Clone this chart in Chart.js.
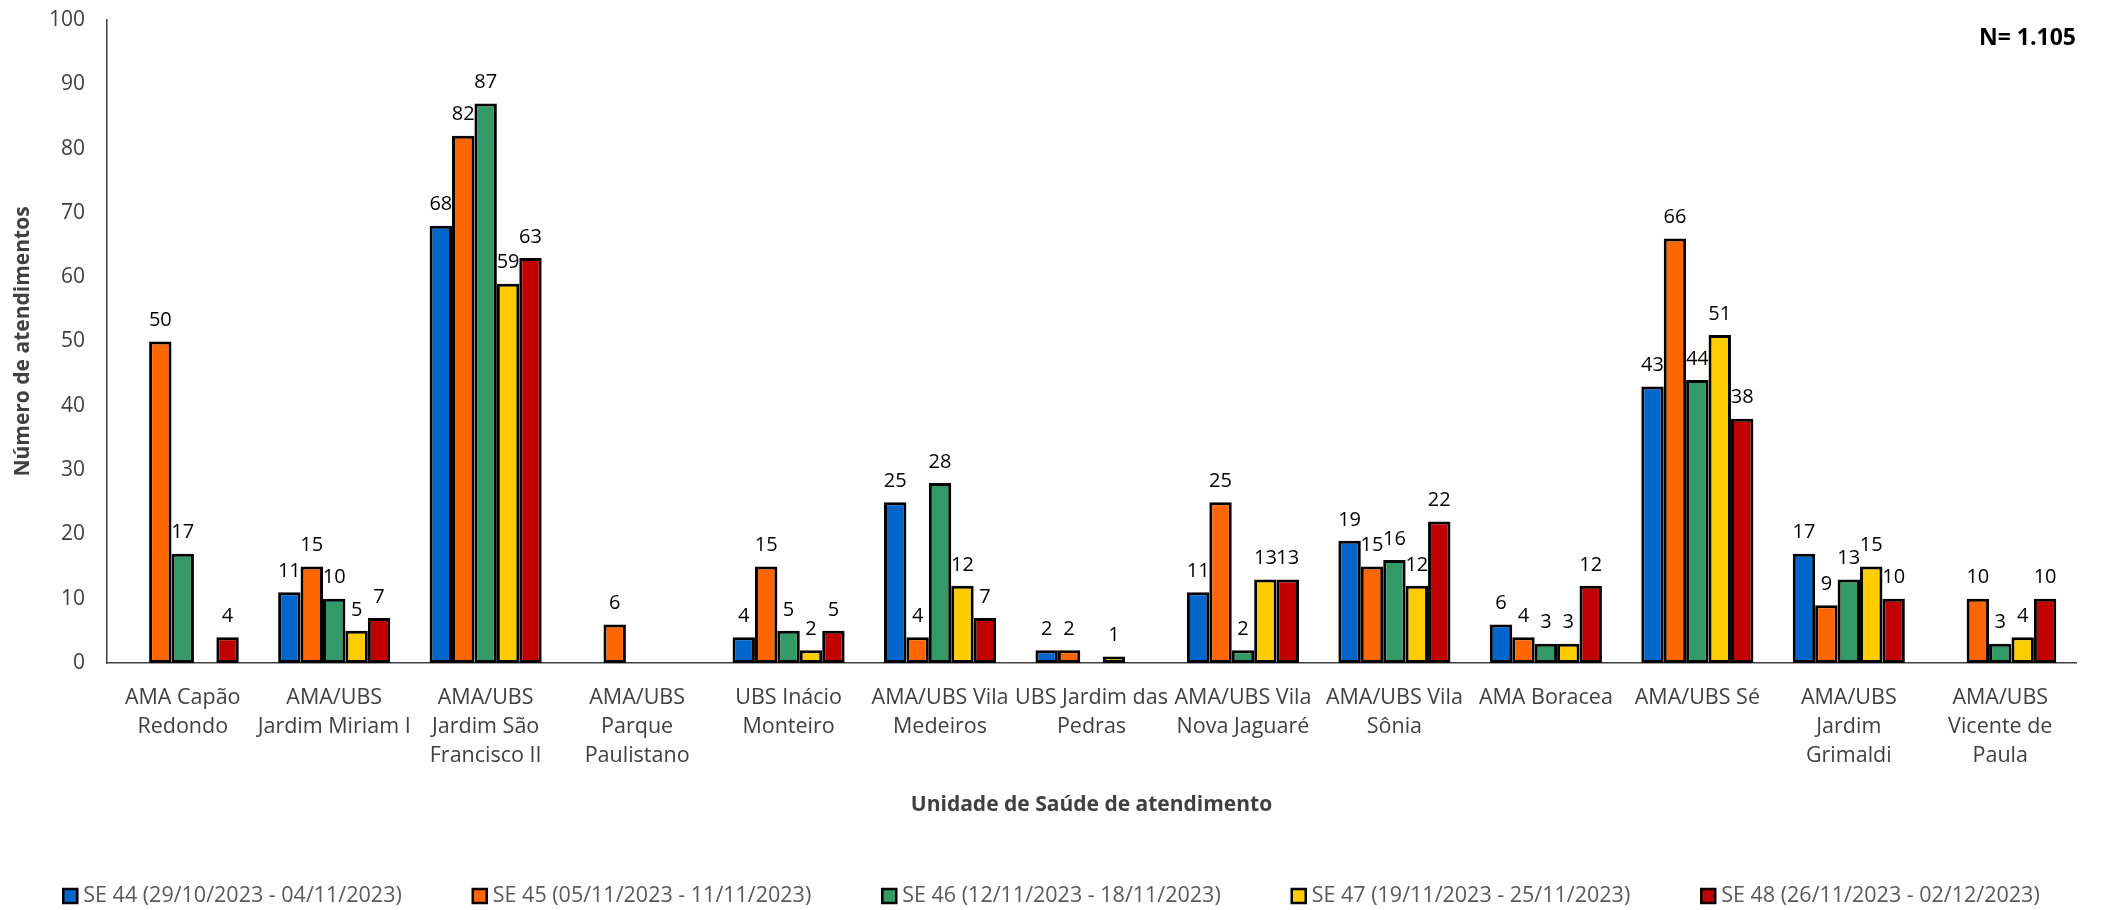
<!DOCTYPE html>
<html>
<head>
<meta charset="utf-8">
<script src="https://cdn.jsdelivr.net/npm/chart.js@4"></script>
<style>
  body { margin: 0; background: #fff; }
  #wrap { width: 2103px; height: 910px; }
</style>
</head>
<body>
<div id="wrap"><canvas id="chart" width="2103" height="910"></canvas></div>
<script>
const unidades = [
    ['AMA Capão', 'Redondo'],
    ['AMA/UBS', 'Jardim Miriam I'],
    ['AMA/UBS', 'Jardim São', 'Francisco II'],
    ['AMA/UBS', 'Parque', 'Paulistano'],
    ['UBS Inácio', 'Monteiro'],
    ['AMA/UBS Vila', 'Medeiros'],
    ['UBS Jardim das', 'Pedras'],
    ['AMA/UBS Vila', 'Nova Jaguaré'],
    ['AMA/UBS Vila', 'Sônia'],
    ['AMA Boracea'],
    ['AMA/UBS Sé'],
    ['AMA/UBS', 'Jardim', 'Grimaldi'],
    ['AMA/UBS', 'Vicente de', 'Paula']
];

const se44 = [null, 11, 68, null, 4, 25, 2, 11, 19, 6, 43, 17, null];
const se45 = [50, 15, 82, 6, 15, 4, 2, 25, 15, 4, 66, 9, 10];
const se46 = [17, 10, 87, null, 5, 28, null, 2, 16, 3, 44, 13, 3];
const se47 = [null, 5, 59, null, 2, 12, 1, 13, 12, 3, 51, 15, 4];
const se48 = [4, 7, 63, null, 5, 7, null, 13, 22, 12, 38, 10, 10];

const semanas = [
    'SE 44 (29/10/2023 - 04/11/2023)',
    'SE 45 (05/11/2023 - 11/11/2023)',
    'SE 46 (12/11/2023 - 18/11/2023)',
    'SE 47 (19/11/2023 - 25/11/2023)',
    'SE 48 (26/11/2023 - 02/12/2023)'
];
const cores = ['#0066CC', '#FF6600', '#339966', '#FFCC00', '#C00000'];
const yTicks = [0, 10, 20, 30, 40, 50, 60, 70, 80, 90, 100];
const totalN = 'N= 1.105';

const FONT = "'Open Sans', 'DejaVu Sans', sans-serif";

// numbers above the bars
const valueLabels = {
    id: 'valueLabels',
    afterDatasetsDraw(chart) {
        const ctx = chart.ctx;
        ctx.save();
        ctx.font = '20px ' + FONT;
        ctx.fillStyle = '#000';
        ctx.textAlign = 'center';
        ctx.textBaseline = 'bottom';
        chart.data.datasets.forEach((ds, i) => {
            const meta = chart.getDatasetMeta(i);
            meta.data.forEach((bar, j) => {
                const v = ds.data[j];
                if (v === null || v === undefined) return;
                ctx.fillText(String(v), bar.x, bar.y - 11);
            });
        });
        ctx.restore();
    }
};

// N label + legend in one row (chart.js legend wraps it)
const extras = {
    id: 'extras',
    afterDraw(chart) {
        const ctx = chart.ctx;
        ctx.save();
        ctx.font = 'bold 23px ' + FONT;
        ctx.fillStyle = '#000';
        ctx.textAlign = 'right';
        ctx.textBaseline = 'middle';
        ctx.fillText(totalN, chart.chartArea.right, 38);

        ctx.font = '21.5px ' + FONT;
        ctx.textAlign = 'left';
        const box = 14, gapTxt = 6, gapItem = 71, yMid = 896;
        const widths = chart.data.datasets.map(ds => box + gapTxt + ctx.measureText(ds.label).width);
        const total = widths.reduce((a, b) => a + b, 0) + gapItem * (widths.length - 1);
        let x = chart.width / 2 - total / 2;
        chart.data.datasets.forEach((ds, i) => {
            ctx.fillStyle = ds.backgroundColor;
            ctx.fillRect(x, yMid - box / 2, box, box);
            ctx.strokeStyle = '#000';
            ctx.lineWidth = 2.5;
            ctx.strokeRect(x, yMid - box / 2, box, box);
            ctx.fillStyle = '#595959';
            ctx.fillText(ds.label, x + box + gapTxt, yMid);
            x += widths[i] + gapItem;
        });
        ctx.restore();
    }
};

const series = [se44, se45, se46, se47, se48];
const datasets = series.map((d, i) => ({
    label: semanas[i],
    data: d,
    backgroundColor: cores[i],
    borderColor: '#000',
    borderWidth: 3,
    borderSkipped: false,
    categoryPercentage: 0.74,
    barPercentage: 1.0
}));

const config = {
    type: 'bar',
    data: {
        labels: unidades,
        datasets: datasets
    },
    options: {
        responsive: false,
        animation: false,
        layout: {
            padding: { top: 0, right: 27, left: 0, bottom: 30 }
        },
        plugins: {
            legend: { display: false },
            tooltip: { enabled: false }
        },
        scales: {
            x: {
                grid: { display: false, drawTicks: false },
                border: { display: true, color: '#404040', width: 1.5 },
                ticks: {
                    autoSkip: false,
                    maxRotation: 0,
                    padding: 21,
                    color: '#404040',
                    font: { family: FONT, size: 21.5, lineHeight: 1.33 }
                },
                title: {
                    display: true,
                    text: 'Unidade de Saúde de atendimento',
                    color: '#404040',
                    font: { family: FONT, size: 21, weight: 'bold' },
                    padding: { top: 0, bottom: 62 }
                },
                afterFit(scale) { scale.height = 217; }
            },
            y: {
                min: 0,
                max: 100,
                afterBuildTicks(scale) {
                    scale.ticks = yTicks.map(v => ({ value: v }));
                },
                grid: { display: false, drawTicks: false },
                border: { display: true, color: '#404040', width: 1.5 },
                ticks: {
                    padding: 22,
                    color: '#404040',
                    font: { family: FONT, size: 21 }
                },
                title: {
                    display: true,
                    text: 'Número de atendimentos',
                    color: '#404040',
                    font: { family: FONT, size: 21, weight: 'bold' },
                    padding: { top: 10, bottom: 0 }
                },
                afterFit(scale) {
                    scale.width = 107;
                    scale.paddingTop = 20;
                }
            }
        }
    },
    plugins: [valueLabels, extras]
};

const myChart = new Chart(
    document.getElementById('chart'),
    config
);
</script>
</body>
</html>
